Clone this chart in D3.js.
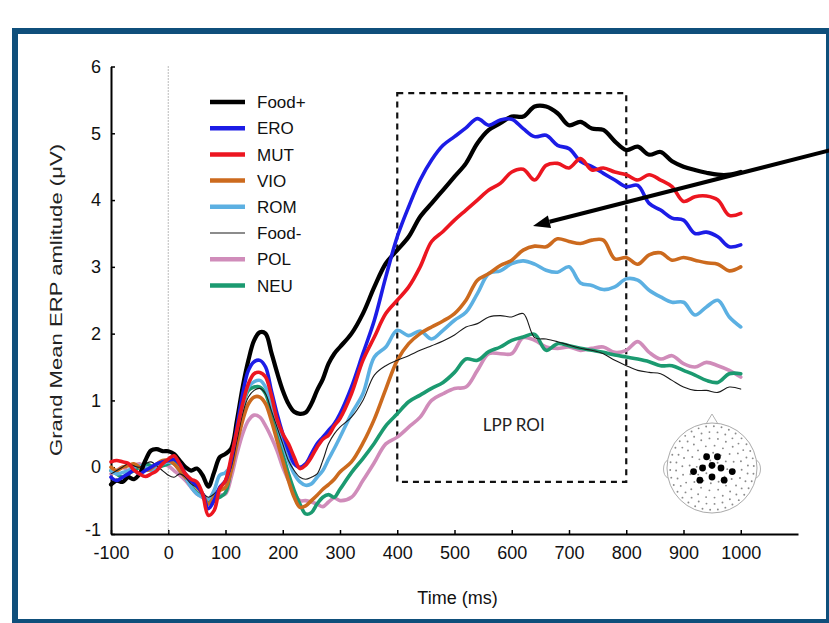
<!DOCTYPE html>
<html>
<head>
<meta charset="utf-8">
<script src="https://cdn.jsdelivr.net/npm/d3@7"></script>
<style>
	body { margin: 0; background: #fff; }
	svg { display: block; }
</style>
</head>
<body>
<svg id="chart" width="829" height="623"></svg>
<script>
// time points (ms): 10 ms steps up to 300, then 20 ms
const times = [-100, -90, -80, -70, -60, -50, -40, -30, -20, -10, 0, 10, 20, 30, 40, 50, 60, 70, 80, 90,
	100, 110, 120, 130, 140, 150, 160, 170, 180, 190, 200, 210, 220, 230, 240, 250, 260, 270, 280, 290, 300,
	320, 340, 360, 380, 400, 420, 440, 460, 480, 500, 520, 540, 560, 580, 600, 620, 640, 660, 680, 700,
	720, 740, 760, 780, 800, 820, 840, 860, 880, 900, 920, 940, 960, 980, 1000];

// grand mean amplitudes (µV) per condition
const foodPlus = [-0.26, -0.2, -0.22, -0.15, -0.18, -0.1, 0.1, 0.25, 0.27, 0.24, 0.24, 0.2, 0.1, 0.0, -0.05, -0.02, -0.12, -0.29, -0.08, 0.15,
	0.2, 0.28, 0.7, 1.2, 1.6, 1.9, 2.02, 2.0, 1.72, 1.42, 1.15, 0.95, 0.83, 0.8, 0.82, 0.95, 1.15, 1.32, 1.55, 1.7, 1.8,
	2.0, 2.3, 2.7, 3.05, 3.25, 3.45, 3.75, 3.95, 4.15, 4.35, 4.55, 4.85, 5.05, 5.15, 5.25, 5.25, 5.4, 5.4, 5.3, 5.12,
	5.17, 5.07, 5.05, 4.88, 4.75, 4.8, 4.68, 4.72, 4.58, 4.5, 4.45, 4.41, 4.38, 4.38, 4.42];
const ero = [-0.15, -0.2, -0.15, -0.1, -0.05, -0.1, -0.05, 0.0, 0.05, 0.08, 0.1, 0.12, 0.05, -0.1, -0.2, -0.28, -0.4, -0.62, -0.5, -0.3,
	-0.2, 0.1, 0.6, 1.1, 1.45, 1.58, 1.6, 1.5, 1.15, 0.8, 0.5, 0.25, 0.05, 0.0, 0.05, 0.2, 0.35, 0.45, 0.55, 0.65, 0.8,
	1.2, 1.7, 2.2, 2.85, 3.45, 3.9, 4.3, 4.6, 4.82, 4.95, 5.08, 5.22, 5.12, 5.2, 5.21, 5.07, 4.95, 4.97, 4.82, 4.77,
	4.58, 4.5, 4.4, 4.3, 4.2, 4.22, 3.95, 3.85, 3.73, 3.7, 3.5, 3.52, 3.45, 3.3, 3.33];
const mut = [0.08, 0.1, 0.08, 0.06, -0.04, -0.1, -0.14, -0.1, -0.05, 0.05, 0.12, 0.17, 0.05, -0.1, -0.18, -0.22, -0.4, -0.72, -0.65, -0.32,
	-0.2, 0.15, 0.55, 0.95, 1.25, 1.4, 1.42, 1.35, 1.08, 0.72, 0.5, 0.35, 0.15, -0.02, 0.03, 0.15, 0.3, 0.42, 0.48, 0.62, 0.73,
	1.1, 1.6, 1.95, 2.3, 2.5, 2.7, 3.0, 3.38, 3.53, 3.7, 3.85, 4.0, 4.15, 4.25, 4.42, 4.46, 4.3, 4.52, 4.55, 4.48,
	4.62, 4.45, 4.48, 4.42, 4.38, 4.3, 4.38, 4.3, 4.2, 3.98, 4.05, 4.06, 4.0, 3.77, 3.8];
const vio = [0.0, -0.05, 0.0, 0.02, 0.05, 0.0, -0.05, -0.02, 0.05, 0.1, 0.1, 0.05, -0.05, -0.15, -0.2, -0.3, -0.4, -0.55, -0.45, -0.35,
	-0.3, -0.05, 0.35, 0.7, 0.95, 1.05, 1.05, 0.95, 0.7, 0.4, 0.1, -0.2, -0.45, -0.6, -0.58, -0.5, -0.42, -0.33, -0.26, -0.18, -0.07,
	0.08, 0.36, 0.72, 1.17, 1.6, 1.85, 2.0, 2.1, 2.19, 2.3, 2.5, 2.8, 2.9, 3.02, 3.1, 3.25, 3.31, 3.3, 3.42, 3.38,
	3.35, 3.4, 3.4, 3.12, 3.14, 3.04, 3.18, 3.21, 3.1, 3.14, 3.1, 3.06, 3.04, 2.94, 3.0];
const rom = [-0.05, -0.1, -0.08, -0.05, 0.0, 0.02, 0.0, -0.05, 0.02, 0.05, 0.08, 0.05, -0.05, -0.15, -0.3, -0.4, -0.45, -0.48, -0.35, -0.12,
	-0.08, 0.05, 0.5, 0.9, 1.2, 1.28, 1.3, 1.2, 0.95, 0.65, 0.35, 0.1, -0.1, -0.22, -0.27, -0.25, -0.15, -0.05, 0.12, 0.28, 0.45,
	0.8, 1.1, 1.65, 1.8, 2.05, 1.97, 2.04, 1.92, 2.05, 2.2, 2.32, 2.6, 2.9, 2.94, 3.05, 3.09, 3.04, 2.95, 2.92, 3.0,
	2.76, 2.72, 2.66, 2.7, 2.82, 2.8, 2.65, 2.55, 2.47, 2.47, 2.28, 2.4, 2.5, 2.25, 2.1];
const foodMinus = [-0.1, -0.05, 0.0, 0.05, 0.02, 0.0, 0.05, 0.08, 0.02, -0.05, -0.12, -0.15, -0.1, -0.15, -0.25, -0.3, -0.38, -0.45, -0.4, -0.3,
	-0.2, 0.0, 0.4, 0.8, 1.05, 1.15, 1.18, 1.1, 0.85, 0.6, 0.35, 0.1, -0.05, -0.15, -0.18, -0.15, -0.1, 0.1, 0.35, 0.5, 0.6,
	0.75, 1.0, 1.38, 1.52, 1.6, 1.67, 1.75, 1.82, 1.89, 1.98, 2.1, 2.15, 2.25, 2.27, 2.25, 2.3, 1.94, 1.92, 1.88, 1.83,
	1.78, 1.75, 1.7, 1.6, 1.52, 1.45, 1.42, 1.4, 1.3, 1.2, 1.15, 1.15, 1.12, 1.2, 1.17];
const pol = [-0.1, -0.05, 0.0, -0.05, 0.02, 0.05, 0.0, -0.05, 0.0, 0.05, 0.02, -0.05, -0.12, -0.2, -0.3, -0.4, -0.45, -0.55, -0.5, -0.42,
	-0.4, -0.15, 0.2, 0.5, 0.7, 0.78, 0.75, 0.62, 0.45, 0.25, 0.0, -0.2, -0.38, -0.5, -0.5, -0.52, -0.55, -0.59, -0.52, -0.46, -0.5,
	-0.45, -0.2, 0.07, 0.35, 0.45, 0.6, 0.75, 1.0, 1.1, 1.18, 1.2, 1.45, 1.7, 1.7, 1.7, 1.94, 1.9, 1.8, 1.78, 1.8,
	1.75, 1.78, 1.8, 1.72, 1.75, 1.88, 1.72, 1.62, 1.67, 1.55, 1.5, 1.57, 1.52, 1.45, 1.35];
const neu = [-0.05, -0.1, -0.15, -0.1, -0.05, 0.0, 0.05, 0.02, 0.0, 0.02, 0.05, 0.08, 0.0, -0.15, -0.28, -0.38, -0.42, -0.5, -0.48, -0.45,
	-0.38, 0.0, 0.45, 0.9, 1.15, 1.2, 1.2, 1.1, 0.82, 0.5, 0.2, -0.1, -0.35, -0.55, -0.7, -0.68, -0.55, -0.45, -0.41, -0.45, -0.33,
	-0.08, 0.13, 0.36, 0.62, 0.8, 0.98, 1.08, 1.18, 1.27, 1.42, 1.62, 1.6, 1.73, 1.8, 1.9, 1.95, 1.99, 1.75, 1.85, 1.82,
	1.78, 1.75, 1.72, 1.68, 1.65, 1.62, 1.58, 1.52, 1.52, 1.45, 1.38, 1.3, 1.27, 1.4, 1.4];

const seriesNames = ["Food+", "ERO", "MUT", "VIO", "ROM", "Food-", "POL", "NEU"];
const seriesValues = [foodPlus, ero, mut, vio, rom, foodMinus, pol, neu];
const seriesColors = ["#000000", "#1c1ce6", "#ec1620", "#cc6a1e", "#5cb0e2", "#1a1a1a", "#d08cba", "#1b9a70"];
const seriesWidths = [4.2, 3.6, 3.6, 3.6, 3.6, 1.1, 3.6, 3.6];
// which series is painted last (on top)
const drawOrder = ["POL", "NEU", "ROM", "VIO", "Food-", "Food+", "ERO", "MUT"];

const xTicks = [-100, 0, 100, 200, 300, 400, 500, 600, 700, 800, 900, 1000];
const yTicks = [-1, 0, 1, 2, 3, 4, 5, 6];
const roiWindow = [400, 800];
const roiAmp = [-0.22, 5.6];

// electrodes of the LPP cluster, in head-plot units (-1..1)
const clusterX = [-0.12, 0.12, -0.21, 0.0, 0.2, -0.41, 0.45, -0.27, 0.0, 0.27];
const clusterY = [-0.25, -0.25, 0.0, -0.06, 0.0, 0.08, 0.08, 0.27, 0.2, 0.27];

const svg = d3.select("#chart");
const width = +svg.attr("width");
const height = +svg.attr("height");

svg.append("rect")
	.attr("x", 0).attr("y", 0)
	.attr("width", width).attr("height", height)
	.style("fill", "#fff");

// blue frame around the figure
svg.append("rect")
	.attr("x", 15).attr("y", 31)
	.attr("width", 814).attr("height", 591)
	.style("fill", "#fff")
	.style("stroke", "#0f4f7b")
	.style("stroke-width", 6);

const x = d3.scaleLinear().domain([-100, 1100]).range([111, 798]);
const y = d3.scaleLinear().domain([-1, 6]).range([534, 66.5]);

const fontAxis = "'Liberation Sans', Arial, sans-serif";

// --------------------------------------------
// Axes
// --------------------------------------------
const xAxis = svg.append("g")
	.attr("transform", "translate(0," + y(-1) + ")")
	.call(d3.axisBottom(x).tickValues(xTicks).tickFormat(d => String(d))
		.tickSize(-4).tickSizeOuter(0).tickPadding(12));

const yAxis = svg.append("g")
	.attr("transform", "translate(" + x(-100) + ",0)")
	.call(d3.axisLeft(y).tickValues(yTicks).tickFormat(d => String(d))
		.tickSize(-4).tickSizeOuter(0).tickPadding(10));

[xAxis, yAxis].forEach(function(g) {
	g.select(".domain").style("stroke", "#000").style("stroke-width", 2);
	g.selectAll(".tick line").style("stroke", "#000").style("stroke-width", 1.5);
	g.selectAll(".tick text")
		.style("font-family", fontAxis)
		.style("font-size", "18px")
		.style("fill", "#111");
});
// lift the lowest y label a little so it clears the "-100"
yAxis.selectAll(".tick text").filter(d => d === -1).attr("dy", "0.1em");

svg.append("text")
	.attr("x", (x(-100) + x(1100)) / 2 + 3)
	.attr("y", 604)
	.attr("text-anchor", "middle")
	.style("font-family", fontAxis)
	.style("font-size", "18px")
	.style("fill", "#111")
	.text("Time (ms)");

svg.append("text")
	.attr("transform", "translate(56,300) rotate(-90)")
	.attr("text-anchor", "middle")
	.attr("dy", "0.35em")
	.attr("textLength", 312)
	.attr("lengthAdjust", "spacingAndGlyphs")
	.style("font-family", fontAxis)
	.style("font-size", "17px")
	.style("fill", "#222")
	.text("Grand Mean ERP amlitude (μV)");

// stimulus onset
svg.append("line")
	.attr("x1", x(0)).attr("x2", x(0))
	.attr("y1", y(6)).attr("y2", y(-1))
	.style("stroke", "#777")
	.style("stroke-width", 1)
	.style("stroke-dasharray", "1,2");

// --------------------------------------------
// LPP region of interest
// --------------------------------------------
svg.append("rect")
	.attr("x", x(roiWindow[0]))
	.attr("y", y(roiAmp[1]))
	.attr("width", x(roiWindow[1]) - x(roiWindow[0]))
	.attr("height", y(roiAmp[0]) - y(roiAmp[1]))
	.style("fill", "none")
	.style("stroke", "#111")
	.style("stroke-width", 2.2)
	.style("stroke-dasharray", "6,5");

svg.append("text")
	.attr("x", (x(roiWindow[0]) + x(roiWindow[1])) / 2 + 2)
	.attr("y", 425)
	.attr("dy", "0.35em")
	.attr("text-anchor", "middle")
	.style("font-family", "Lato, 'Open Sans', sans-serif")
	.style("font-size", "17px")
	.style("fill", "#222")
	.text("LPP ROI");

// --------------------------------------------
// Waveforms
// --------------------------------------------
const line = d3.line()
	.x(d => x(d[0]))
	.y(d => y(d[1]))
	.curve(d3.curveCatmullRom.alpha(0.5));

const waves = svg.append("g").classed("waves", true);
drawOrder.forEach(function(name) {
	const i = seriesNames.indexOf(name);
	const pts = times.map((t, k) => [t, seriesValues[i][k]]);
	waves.append("path")
		.datum(pts)
		.attr("d", line)
		.style("fill", "none")
		.style("stroke", seriesColors[i])
		.style("stroke-width", seriesWidths[i])
		.style("stroke-linejoin", "round")
		.style("stroke-linecap", "round");
});

// --------------------------------------------
// Legend
// --------------------------------------------
const legend = svg.append("g").attr("transform", "translate(210,102)");
const rows = legend.selectAll("g")
	.data(seriesNames)
	.enter()
	.append("g")
	.attr("transform", (d, i) => "translate(0," + (i * 26.2) + ")");

rows.append("line")
	.attr("x1", 0).attr("x2", 35)
	.attr("y1", 0).attr("y2", 0)
	.style("stroke", (d, i) => seriesColors[i])
	.style("stroke-width", (d, i) => i === 5 ? 1.1 : 4.5);

rows.append("text")
	.attr("x", 47)
	.attr("dy", "0.36em")
	.style("font-family", fontAxis)
	.style("font-size", "17px")
	.style("fill", "#111")
	.text(d => d);

// --------------------------------------------
// Arrow pointing into the ROI
// --------------------------------------------
const arrowFrom = [831, 150];
const arrowTo = [533, 226];
const ang = Math.atan2(arrowTo[1] - arrowFrom[1], arrowTo[0] - arrowFrom[0]);
const headLen = 17, headHalf = 6.5;
const base = [arrowTo[0] - headLen * Math.cos(ang), arrowTo[1] - headLen * Math.sin(ang)];

svg.append("line")
	.attr("x1", arrowFrom[0]).attr("y1", arrowFrom[1])
	.attr("x2", base[0]).attr("y2", base[1])
	.style("stroke", "#000")
	.style("stroke-width", 4);

svg.append("path")
	.attr("d", d3.line()([
		arrowTo,
		[base[0] + headHalf * Math.sin(ang), base[1] - headHalf * Math.cos(ang)],
		[base[0] - headHalf * Math.sin(ang), base[1] + headHalf * Math.cos(ang)]
	]) + "Z")
	.style("fill", "#000");

// --------------------------------------------
// Head plot with electrode montage
// --------------------------------------------
const head = svg.append("g").attr("transform", "translate(712,468)");
const R = 45;

head.append("path")
	.attr("d", "M-6," + (-R + 1) + " L0," + (-R - 9) + " L6," + (-R + 1))
	.style("fill", "#fff")
	.style("stroke", "#aaa")
	.style("stroke-width", 0.9);

[-1, 1].forEach(function(s) {
	head.append("path")
		.attr("d", "M" + (s * (R - 1)) + ",-8 C" + (s * (R + 5)) + ",-6 " + (s * (R + 5)) + ",8 " + (s * (R - 1)) + ",10")
		.style("fill", "#fff")
		.style("stroke", "#aaa")
		.style("stroke-width", 0.9);
});

head.append("circle")
	.attr("r", R)
	.style("fill", "#fff")
	.style("stroke", "#aaa")
	.style("stroke-width", 1);

const ringR = [0, 0.17, 0.34, 0.5, 0.66, 0.8, 0.93];
const ringN = [1, 6, 12, 16, 22, 28, 34];
const montage = [];
ringR.forEach(function(r, i) {
	for (let k = 0; k < ringN[i]; k++) {
		const a = k / ringN[i] * 2 * Math.PI + i * 0.3;
		montage.push([r * R * Math.cos(a), r * R * Math.sin(a)]);
	}
});

head.selectAll("circle.el")
	.data(montage)
	.enter()
	.append("circle")
	.attr("class", "el")
	.attr("cx", d => d[0])
	.attr("cy", d => d[1])
	.attr("r", 0.95)
	.style("fill", "#8a8a8a");

head.selectAll("circle.roi")
	.data(clusterX.map((v, i) => [v, clusterY[i]]))
	.enter()
	.append("circle")
	.attr("class", "roi")
	.attr("cx", d => d[0] * R)
	.attr("cy", d => d[1] * R)
	.attr("r", 3.4)
	.style("fill", "#000");
</script>
</body>
</html>
